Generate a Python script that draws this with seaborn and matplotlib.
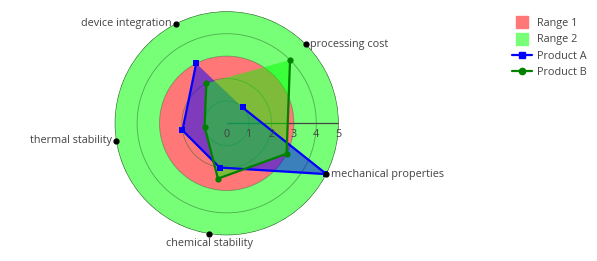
import numpy as np
import pandas as pd
import matplotlib
matplotlib.use("Agg")
import matplotlib.pyplot as plt
from matplotlib.lines import Line2D
import seaborn as sns

categories = ["processing cost", "mechanical properties", "chemical stability",
              "thermal stability", "device integration"]
product_a = [1, 5, 2, 2, 3]
product_b = [4, 3, 2.5, 1, 2]
range1 = [0, 3]
range2 = [3, 5]
radial_ticks = [0, 1, 2, 3, 4, 5]

sns.set_style("white")
plt.rcParams["font.family"] = ["Open Sans", "DejaVu Sans"]

W, H = 597, 261
fig = plt.figure(figsize=(W / 100, H / 100), dpi=100)
cx, cy, R = 226.7, 123.3, 112
ax = fig.add_axes([(cx - R) / W, (H - cy - R) / H, 2 * R / W, 2 * R / H], projection="polar")
ax.set_theta_direction(-1)
ax.set_theta_offset(np.deg2rad(45))
ax.set_ylim(0, 5)
ax.set_facecolor("none")

n = len(categories)
theta = np.arange(n) * 2 * np.pi / n

RED, GREEN = "#FF7777", "#77FF77"
FS = 7.8
# ranges
ax.bar(0, range2[1] - range2[0], width=2 * np.pi, bottom=range2[0], color=GREEN,
       edgecolor="none", zorder=1, align="center")
ax.bar(0, range1[1] - range1[0], width=2 * np.pi, bottom=range1[0], color=RED,
       edgecolor="none", zorder=1, align="center")

# grid circles
circ = np.linspace(0, 2 * np.pi, 361)
for r in radial_ticks[1:-1]:
    ax.plot(circ, [r] * len(circ), color="#2a6a2a", lw=0.6, alpha=0.55, zorder=2)
ax.plot(circ, [5] * len(circ), color="#3a6a3a", lw=0.9, zorder=2)
ax.grid(False)
ax.spines["polar"].set_visible(False)
ax.set_xticks([])
ax.set_yticks([])

# radial axis line at east
east = np.deg2rad(45)
ax.plot([east, east], [0, 5], color="#444444", lw=0.9, zorder=3)
for t in radial_ticks:
    ax.annotate(str(t), (east, t), xytext=(0, -4), textcoords="offset points",
                ha="center", va="top", fontsize=FS, color="#444444", zorder=6)

def closed(vals):
    return pd.DataFrame({"theta": np.append(theta, theta[0]), "r": list(vals) + [vals[0]]})

da = closed(product_a)
db = closed(product_b)
ax.fill(da["theta"], da["r"], color=(0, 0, 1, 0.5), zorder=4, lw=0)
sns.lineplot(data=da, x="theta", y="r", ax=ax, sort=False, color="#0000FF", lw=1.6,
             marker="s", markersize=4.5, markeredgewidth=0, zorder=5, legend=False)
ax.fill(db["theta"], db["r"], color=(0, 1, 0, 0.5), zorder=4, lw=0)
sns.lineplot(data=db, x="theta", y="r", ax=ax, sort=False, color="#008000", lw=1.6,
             marker="o", markersize=4.5, markeredgewidth=0, zorder=5, legend=False)
ax.set_xlabel("")
ax.set_ylabel("")

# category markers and labels
ax.scatter(theta, [5] * n, s=12, color="black", zorder=7, clip_on=False)
label_cfg = [
    dict(xytext=(3, 0), ha="left", va="center"),
    dict(xytext=(3, 0), ha="left", va="center"),
    dict(xytext=(0, -3), ha="center", va="top"),
    dict(xytext=(-3, 0), ha="right", va="center"),
    dict(xytext=(-3, 0), ha="right", va="center"),
]
for t, c, cfg in zip(theta, categories, label_cfg):
    ax.annotate(c, (t, 5), textcoords="offset points", fontsize=FS, color="#444444",
                annotation_clip=False, **cfg)

handles = [
    Line2D([], [], ls="none", marker="s", markersize=8, color=RED),
    Line2D([], [], ls="none", marker="s", markersize=8, color=GREEN),
    Line2D([], [], color="#0000FF", lw=1.6, marker="s", markersize=4.5),
    Line2D([], [], color="#008000", lw=1.6, marker="o", markersize=4.5),
]
fig.legend(handles, ["Range 1", "Range 2", "Product A", "Product B"],
           loc="upper left", bbox_to_anchor=(512 / W, 1 - 18 / H),
           frameon=False, fontsize=FS, handlelength=1.8, handletextpad=0.5,
           labelcolor="#444444", borderaxespad=0, borderpad=0, labelspacing=0.5)

fig.savefig("out.png", dpi=100)
